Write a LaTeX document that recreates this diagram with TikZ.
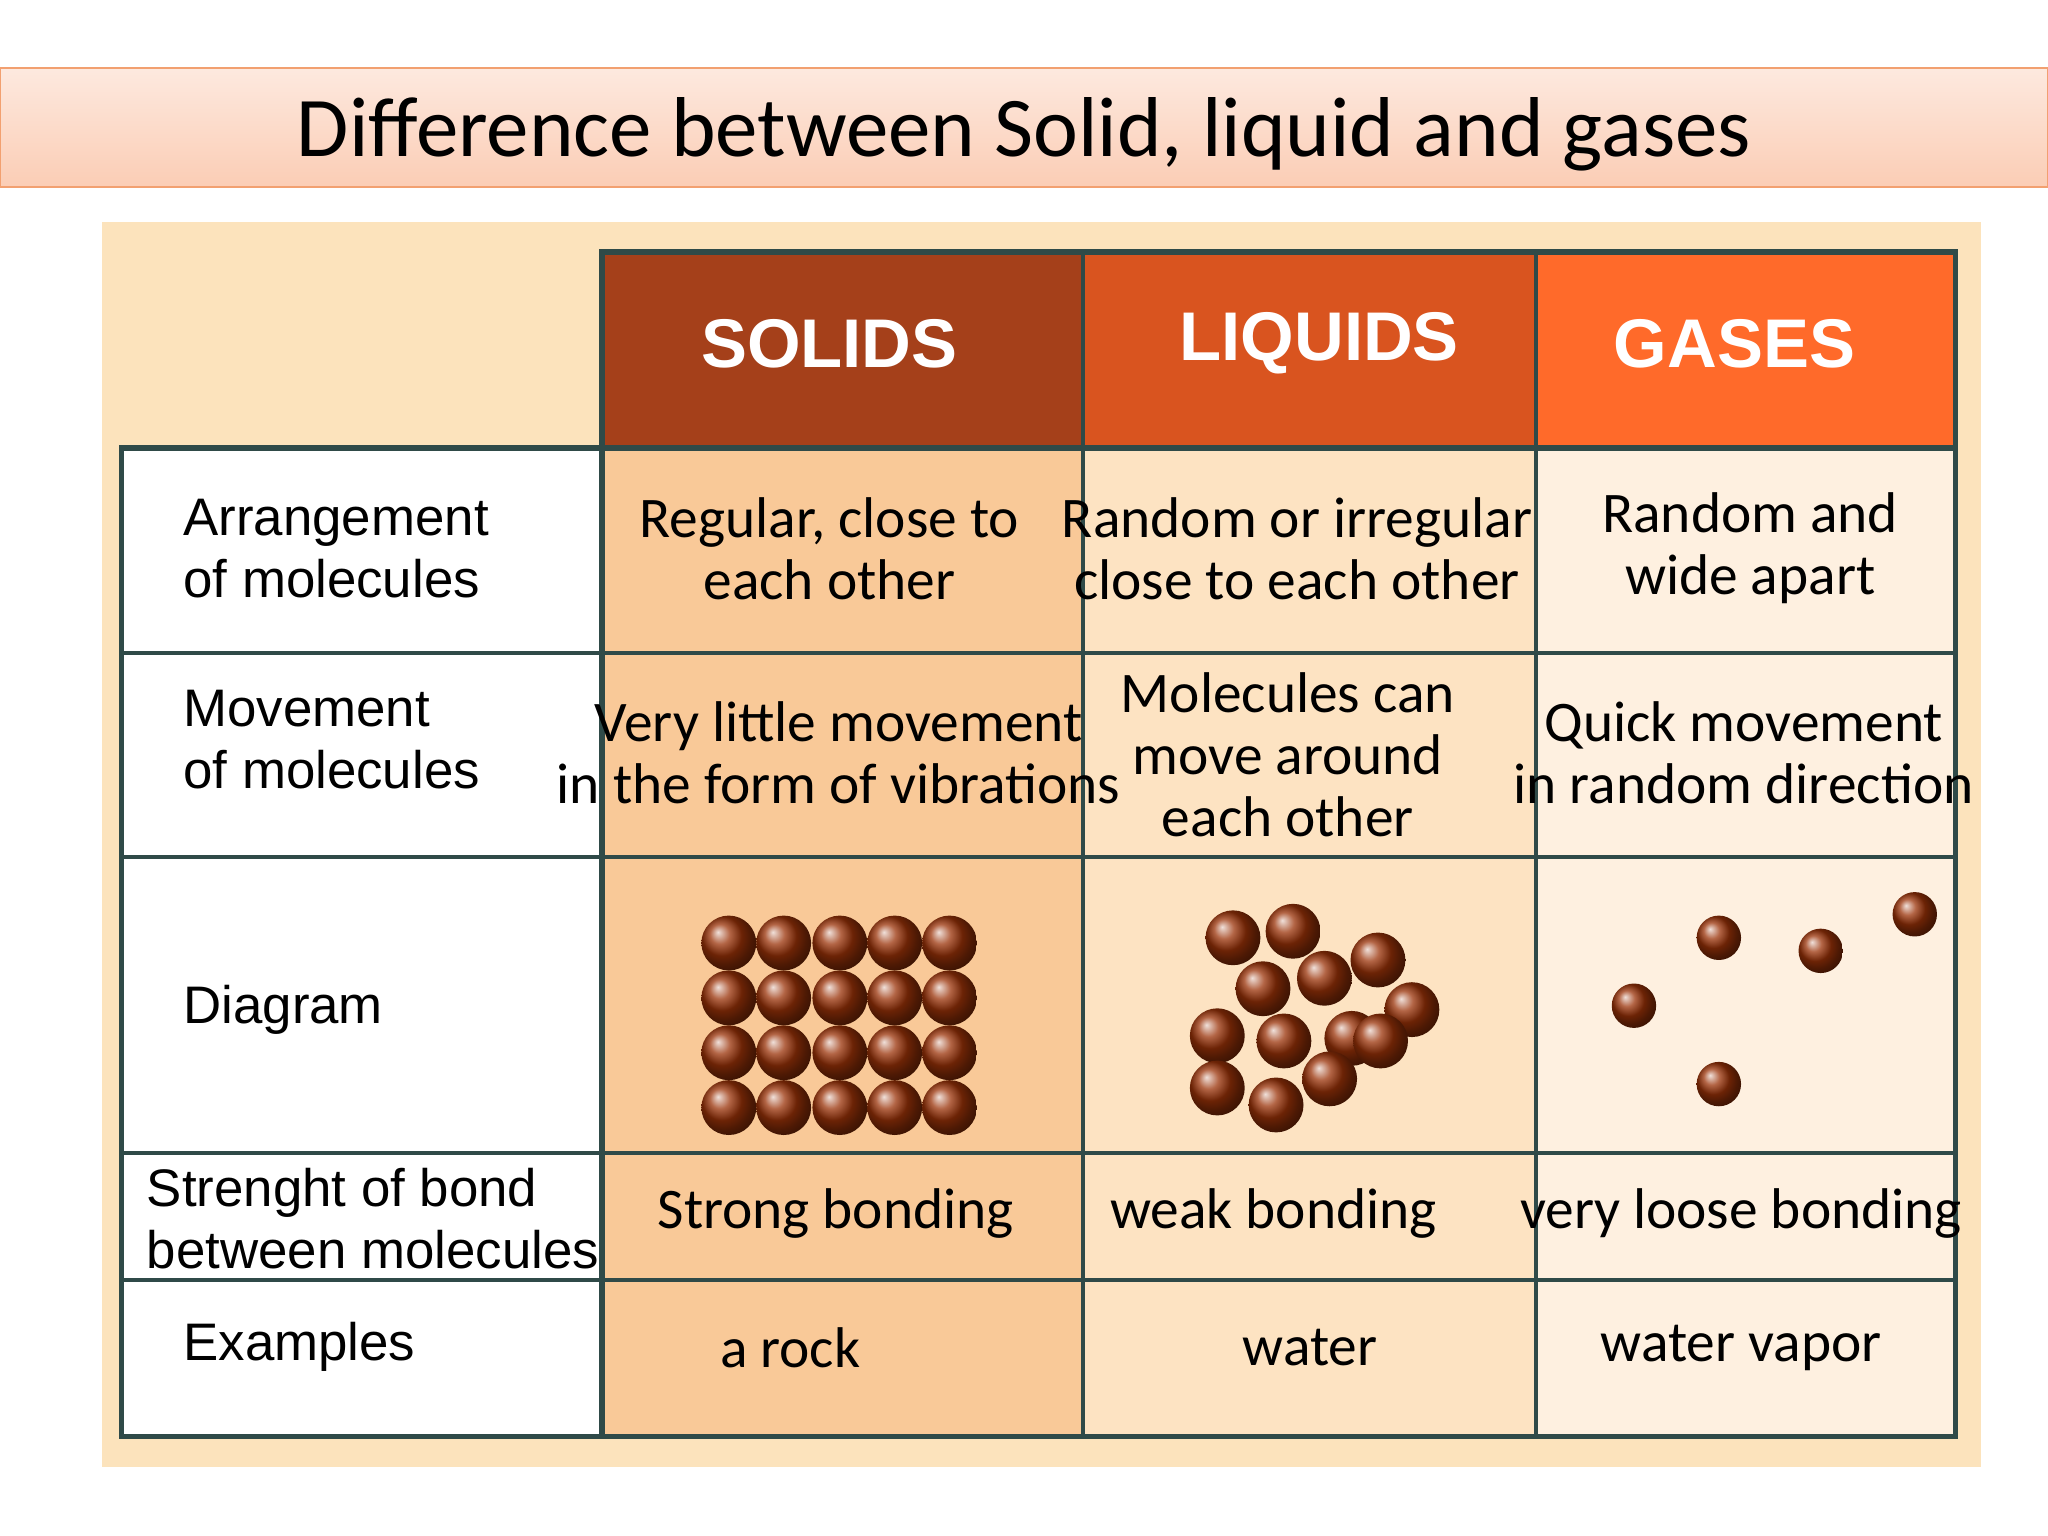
\documentclass[tikz,border=0pt]{standalone}
\usepackage{fontspec}
\setmainfont{Carlito}
\newfontfamily\lbl{Liberation Sans}
\newfontfamily\cell{Carlito}
\usetikzlibrary{shadings}
\definecolor{titletop}{HTML}{FDE9DF}
\definecolor{titlebot}{HTML}{FBCDB5}
\definecolor{titleedge}{HTML}{F2A070}
\definecolor{panel}{HTML}{FCE3BC}
\definecolor{hsol}{HTML}{A5401A}
\definecolor{hliq}{HTML}{D9541F}
\definecolor{hgas}{HTML}{FF6A2A}
\definecolor{csol}{HTML}{F9C998}
\definecolor{cliq}{HTML}{FDE3C2}
\definecolor{cgas}{HTML}{FEF0E0}
\definecolor{grid}{HTML}{2F4A48}
\definecolor{mol}{HTML}{9A3208}
\tikzset{
  hdr/.style={font=\lbl\bfseries\fontsize{15}{15}\selectfont, text=white},
  lab/.style={font=\lbl\fontsize{11.5}{13.5}\selectfont, align=left, anchor=west},
  cel/.style={font=\cell\fontsize{12.5}{13.5}\selectfont, align=center},
  ball/.style={shading=ball, ball color=mol}
}
\begin{document}
\begin{tikzpicture}[x=0.01cm,y=-0.01cm]
\useasboundingbox (0,0) rectangle (1568,1176);
\fill[white] (0,0) rectangle (1568,1176);
% title
\shade[top color=titletop,bottom color=titlebot,draw=titleedge] (0,52) rectangle (1568,143);
\node (title) at (784,103) {\fontsize{18.5}{20}\selectfont Difference between Solid, liquid and gases};
% panel
\fill[panel] (78,170) rectangle (1517,1123);
% fills
\fill[white] (93,343) rectangle (461,1100);
\fill[hsol] (461,193) rectangle (829,343);
\fill[hliq] (829,193) rectangle (1176,343);
\fill[hgas] (1176,193) rectangle (1497,343);
\fill[csol] (461,343) rectangle (829,1100);
\fill[cliq] (829,343) rectangle (1176,1100);
\fill[cgas] (1176,343) rectangle (1497,1100);
% grid
\draw[grid,line width=1.2pt] (461,193) rectangle (1497,1100) (93,343) rectangle (1497,1100);
\foreach \x in {829,1176} \draw[grid,line width=0.8pt] (\x,193) -- (\x,1100);
\foreach \y in {500,656,883,980} \draw[grid,line width=0.8pt] (93,\y) -- (1497,\y);
\draw[grid,line width=0.8pt] (461,343) -- (461,1100);
% headers
\node[hdr] (hs) at (635,263) {SOLIDS};
\node[hdr] (hl) at (1010,263) {LIQUIDS};
\node[hdr] (hg) at (1328,263) {GASES};
% labels
\node[lab] (l1) at (128,420) {Arrangement\\of molecules};
\node[lab] (l2) at (128,566) {Movement\\of molecules};
\node[lab] (l3) at (128,773) {Diagram};
\node[lab] (l4) at (100,933) {Strenght of bond\\between molecules};
\node[lab] (l5) at (128,1031) {Examples};
% cells
\node[cel] (a1) at (635,420) {Regular, close to\\each other};
\node[cel] (a2) at (993,420) {Random or irregular\\close to each other};
\node[cel] (a3) at (1340,420) {Random and\\wide apart};
\node[cel] (b1) at (642,576) {Very little movement\\in the form of vibrations};
\node[cel] (b2) at (986,578) {Molecules can\\move around\\each other};
\node[cel] (b3) at (1335,576) {Quick movement\\in random direction};
\node[cel] (c1) at (640,929) {Strong bonding};
\node[cel] (c2) at (975,929) {weak bonding};
\node[cel] (c3) at (1333,929) {very loose bonding};
\node[cel] (d1) at (605,1032) {a rock};
\node[cel] (d2) at (1003,1032) {water};
\node[cel] (d3) at (1333,1032) {water vapor};
% molecules
\foreach \x in {558,600,643,685,727}
  \foreach \y in {722,764,806,848}
    \shade[ball] (\x,\y) circle (21);
\foreach \p in {(944,718),(990,713),(1055,735),(967,757),(1014,749),(1081,773),(932,793),(983,797),(1035,795),(1057,797),(1018,826),(932,833),(977,846)}
  \shade[ball] \p circle (21);
\foreach \p in {(1466,700),(1316,718),(1394,728),(1251,770),(1316,830)}
  \shade[ball] \p circle (17);
\end{tikzpicture}
\end{document}
